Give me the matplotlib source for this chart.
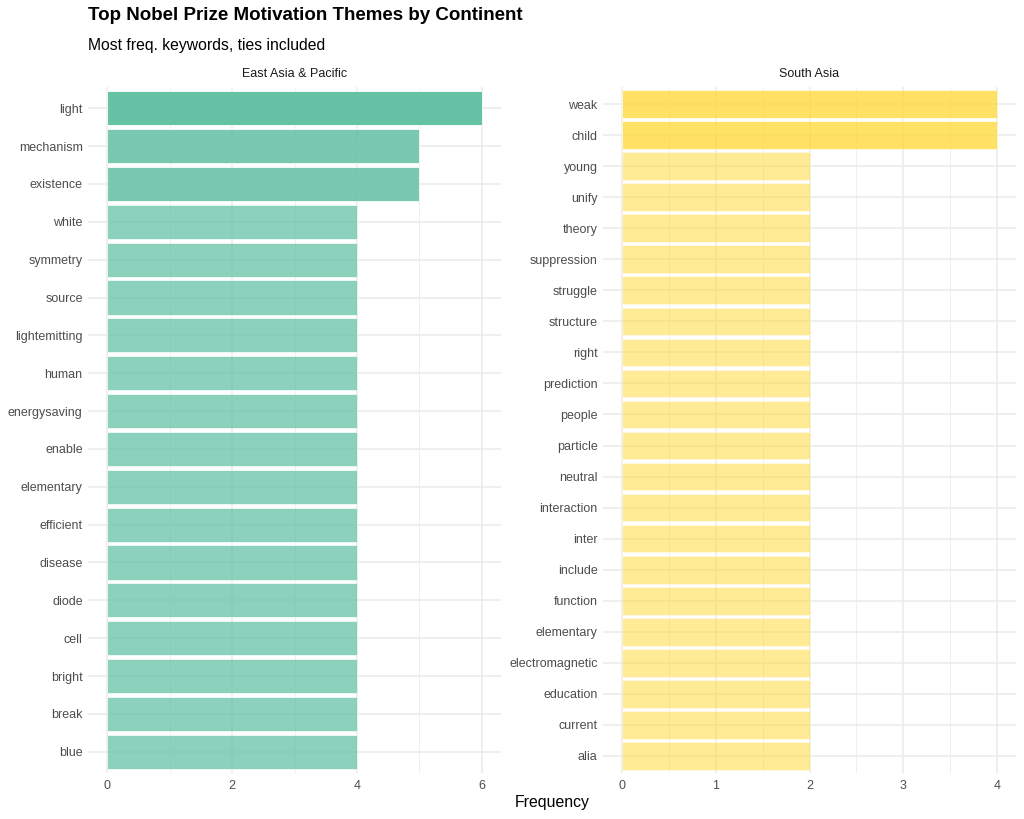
import matplotlib
matplotlib.use("Agg")
import matplotlib.pyplot as plt
import numpy as np

plt.rcParams['font.family'] = ['Liberation Sans', 'DejaVu Sans']

title = "Top Nobel Prize Motivation Themes by Continent"
subtitle = "Most freq. keywords, ties included"
xlabel = "Frequency"

panel_names = ["East Asia & Pacific", "South Asia"]

eap_words = ["light", "mechanism", "existence", "white", "symmetry", "source",
             "lightemitting", "human", "energysaving", "enable", "elementary",
             "efficient", "disease", "diode", "cell", "bright", "break", "blue"]
eap_counts = [6, 5, 5, 4, 4, 4, 4, 4, 4, 4, 4, 4, 4, 4, 4, 4, 4, 4]

sa_words = ["weak", "child", "young", "unify", "theory", "suppression", "struggle",
            "structure", "right", "prediction", "people", "particle", "neutral",
            "interaction", "inter", "include", "function", "elementary",
            "electromagnetic", "education", "current", "alia"]
sa_counts = [4, 4, 2, 2, 2, 2, 2, 2, 2, 2, 2, 2, 2, 2, 2, 2, 2, 2, 2, 2, 2, 2]

colors = ["#66C2A5", "#FFD92F"]
x_major = [[0, 2, 4, 6], [0, 1, 2, 3, 4]]
x_minor = [[1, 3, 5], [0.5, 1.5, 2.5, 3.5]]

W, H = 1024, 819
fig = plt.figure(figsize=(W / 100, H / 100), dpi=100)

def alpha_of(n):
    return 0.5 + (n - 2) / 4 * 0.5

panels = [(eap_words, eap_counts, 88.25, 500.75), (sa_words, sa_counts, 603.25, 1015.75)]
top_px, bot_px = 86.7, 773.3
grid_c = "#EBEBEB"
yexp = 0.57

for i, (words, counts, x0, x1) in enumerate(panels):
    ax = fig.add_axes([x0 / W, (H - bot_px) / H, (x1 - x0) / W, (bot_px - top_px) / H])
    n = len(words)
    ypos = np.arange(n)[::-1]
    xmax = max(counts)
    ax.set_xlim(-0.05 * xmax, xmax * 1.05)
    ax.set_ylim(-yexp, n - 1 + yexp)
    for v in x_major[i]:
        ax.axvline(v, color=grid_c, lw=1.1, zorder=0)
    for v in x_minor[i]:
        ax.axvline(v, color=grid_c, lw=0.55, zorder=0)
    for y in ypos:
        ax.axhline(y, color=grid_c, lw=1.1, zorder=0)
    for y, c in zip(ypos, counts):
        ax.barh(y, c, height=0.9, color=colors[i], alpha=alpha_of(c),
                edgecolor="white", linewidth=0.6, zorder=2)
    ax.set_yticks(ypos)
    ax.set_yticklabels(words)
    ax.set_xticks(x_major[i])
    ax.set_xticklabels([str(v) for v in x_major[i]])
    ax.tick_params(axis='y', length=0, labelsize=9, labelcolor="#4D4D4D", pad=4)
    ax.tick_params(axis='x', length=0, labelsize=9, labelcolor="#4D4D4D", pad=5)
    for s in ax.spines.values():
        s.set_visible(False)
    ax.set_facecolor("none")
    fig.text((x0 + x1) / 2 / W, 1 - 74 / H, panel_names[i], ha="center", va="center",
             fontsize=9, color="#1A1A1A")

fig.text(88 / W, 1 - 15.5 / H, title, ha="left", va="center", fontsize=13.5,
         fontweight="bold", color="black")
fig.text(88 / W, 1 - 45.5 / H, subtitle, ha="left", va="center", fontsize=11.3, color="black")
fig.text(552 / W, 1 - 802 / H, xlabel, ha="center", va="center", fontsize=11.4, color="black")

fig.savefig("out.png", dpi=100, facecolor="white")
